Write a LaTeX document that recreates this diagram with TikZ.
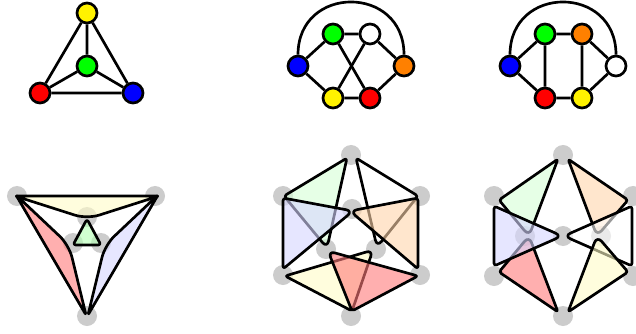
\documentclass[tikz,border=0pt]{standalone}
\usepackage{tikz}
\usepackage{xcolor}

\begin{document}
\begin{tikzpicture}[x=0.025cm,y=-0.025cm,
  vtx/.style={circle,draw,line width=1.9pt,minimum size=0.5cm,inner sep=0pt},
  edg/.style={line width=1.9pt},
  dot/.style={fill=gray!40},
  hedge/.style={draw,line width=1.9pt,rounded corners=2pt,line join=round,fill opacity=0.6}]
\useasboundingbox (0,0) rectangle (636,334);

% top left: K4
\node[vtx,fill=yellow] (ka) at (87,13) {};
\node[vtx,fill=green] (kb) at (87,66) {};
\node[vtx,fill=red] (kc) at (40,93) {};
\node[vtx,fill=blue] (kd) at (133,93) {};
\draw[edg] (ka) -- (kb) (ka) -- (kc) (ka) -- (kd);
\draw[edg] (kb) -- (kc) (kb) -- (kd) (kc) -- (kd);

% top middle
\node[vtx,fill=blue] (pb) at (298,66) {};
\node[vtx,fill=green] (pg) at (333,34) {};
\node[vtx,fill=white] (pw) at (370,34) {};
\node[vtx,fill=orange] (po) at (404,66) {};
\node[vtx,fill=yellow] (py) at (333,98) {};
\node[vtx,fill=red] (pr) at (370,98) {};
\draw[edg] (pb) -- (pg) (pb) -- (py) (pg) -- (pw) (pg) -- (pr);
\draw[edg] (pw) -- (py) (pw) -- (po) (po) -- (pr) (py) -- (pr);
\draw[edg] (pb) to[out=90,in=90,looseness=1.7] (po);

% top right
\node[vtx,fill=blue] (qb) at (510,66) {};
\node[vtx,fill=green] (qg) at (545,34) {};
\node[vtx,fill=orange] (qo) at (582,34) {};
\node[vtx,fill=white] (qw) at (616,66) {};
\node[vtx,fill=red] (qr) at (545,98) {};
\node[vtx,fill=yellow] (qy) at (582,98) {};
\draw[edg] (qb) -- (qg) (qb) -- (qr) (qg) -- (qo) (qg) -- (qr);
\draw[edg] (qo) -- (qy) (qo) -- (qw) (qw) -- (qy) (qr) -- (qy);
\draw[edg] (qb) to[out=90,in=90,looseness=1.7] (qw);

% bottom left
\foreach \p in {(17,196),(155,196),(87,316),(87,217),(73,243),(101,243)}
  \fill[dot] \p circle (0.25cm);
\filldraw[hedge,rounded corners=1pt,fill=yellow!22] (15,196) [rounded corners=9pt] -- (87,219) [rounded corners=1pt] -- (159,196) -- cycle;
\filldraw[hedge,rounded corners=1pt,fill=red!52] (16,195) [rounded corners=9pt] -- (69,245) [rounded corners=1pt] -- (86,315) -- cycle;
\filldraw[hedge,rounded corners=1pt,fill=blue!16] (158,195) [rounded corners=9pt] -- (105,245) [rounded corners=1pt] -- (88,315) -- cycle;
\filldraw[hedge,fill=green!30] (87,219) -- (73,245) -- (101,245) -- cycle;

% bottom middle
\foreach \p in {(351,155),(283,196),(420,196),(283,275),(420,275),(351,316),
                (352,209),(326,249),(376,249)}
  \fill[dot] \p circle (0.25cm);
\filldraw[hedge,fill=green!16] (347,158) [rounded corners=5pt] -- (327,248) [rounded corners=2pt] -- (284,196) -- cycle;
\filldraw[hedge,fill=blue!16] (283,198) [rounded corners=5pt] -- (353,211) [rounded corners=2pt] -- (283,269) -- cycle;
\filldraw[hedge,fill=white] (356,158) [rounded corners=5pt] -- (377,247) [rounded corners=2pt] -- (418,196) -- cycle;
\filldraw[hedge,fill=orange!33] (418,198) [rounded corners=5pt] -- (350,211) [rounded corners=2pt] -- (418,269) -- cycle;
\filldraw[hedge,fill=yellow!22] (285,276) [rounded corners=5pt] -- (373,250) [rounded corners=2pt] -- (352,311) -- cycle;
\filldraw[hedge,fill=red!52] (418,276) [rounded corners=5pt] -- (328,251) [rounded corners=2pt] -- (352,311) -- cycle;

% bottom right
\foreach \p in {(563,155),(494,196),(633,196),(494,276),(633,276),(563,316),
                (563,236),(525,236),(601,236)}
  \fill[dot] \p circle (0.25cm);
\filldraw[hedge,fill=green!16] (558,159) [rounded corners=5pt] -- (529,236) [rounded corners=2pt] -- (499,200) -- cycle;
\filldraw[hedge,fill=red!52] (499,272) [rounded corners=5pt] -- (529,236) [rounded corners=2pt] -- (558,312) -- cycle;
\filldraw[hedge,fill=blue!16] (494,206) [rounded corners=5pt] -- (562,236) [rounded corners=2pt] -- (494,266) -- cycle;
\filldraw[hedge,fill=orange!33] (568,159) [rounded corners=5pt] -- (597,236) [rounded corners=2pt] -- (628,200) -- cycle;
\filldraw[hedge,fill=white] (632,206) [rounded corners=5pt] -- (564,236) [rounded corners=2pt] -- (632,266) -- cycle;
\filldraw[hedge,fill=yellow!22] (628,272) [rounded corners=5pt] -- (597,236) [rounded corners=2pt] -- (568,312) -- cycle;
\end{tikzpicture}
\end{document}
